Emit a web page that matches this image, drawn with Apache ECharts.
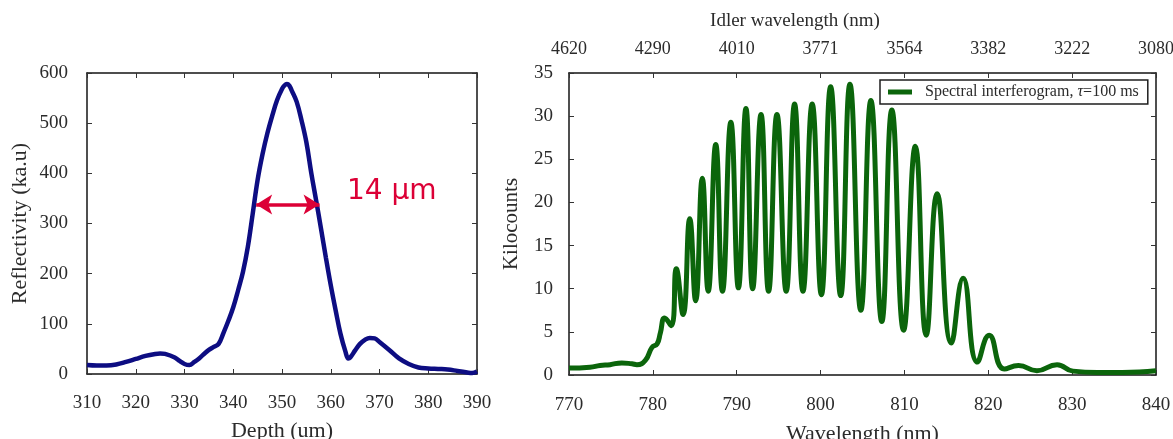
<!DOCTYPE html>
<html>
<head>
<meta charset="utf-8">
<script src="https://cdn.jsdelivr.net/npm/echarts@6/dist/echarts.min.js"></script>
<style>
  html, body { margin: 0; padding: 0; background: #fff; }
  #chart { width: 1173px; height: 439px; }
</style>
</head>
<body>
<div id="chart"></div>
<script>
// ---- Left panel: reflectivity vs depth ----
const depth = [310, 312, 314, 316, 318, 320, 322, 324, 325, 326, 328, 329, 330, 331, 332, 333, 334, 335, 336, 337, 338, 339, 340, 341, 342, 343, 344, 345, 346, 347, 348, 349, 350, 350.5, 351, 351.5, 352, 353, 354, 355, 356, 357, 358, 359, 360, 361, 362, 363, 363.6, 364, 365, 366, 367, 368, 369, 370, 372, 374, 376, 378, 380, 382, 384, 386, 388, 389, 390];
const reflectivity = [18, 17, 17, 19, 24, 30, 36, 40, 41, 40, 33, 26, 20, 18, 24, 31, 40, 48, 54, 60, 82, 106, 133, 167, 204, 254, 320, 387, 438, 480, 515, 546, 568, 575, 578, 575, 565, 543, 506, 462, 401, 346, 290, 232, 177, 127, 80, 45, 31, 33, 47, 60, 68, 72, 71, 64, 48, 31, 20, 13, 11, 10, 9, 6, 3, 2, 5];
const fwhmArrow = { from: [344.7, 338], to: [357.7, 338], label: '14 μm' };

// ---- Right panel: spectral interferogram ----
const wavelength = [770, 772.5, 773.7, 774.9, 776.3, 777.5, 778.1, 779.1, 779.9, 780.5, 780.9, 781.4, 782.2, 782.8, 783.6, 784.4, 785.1, 785.9, 786.6, 787.5, 788.3, 789.3, 790.2, 791.1, 791.9, 792.9, 793.8, 794.8, 795.9, 796.9, 797.9, 799.0, 800.1, 801.2, 802.4, 803.5, 804.8, 806.0, 807.3, 808.5, 809.9, 811.3, 812.6, 813.9, 815.6, 817.0, 818.7, 820.1, 821.9, 823.6, 825.8, 828.2, 830.1, 833, 836, 838, 840];
const kilocounts = [0.8, 0.9, 1.1, 1.2, 1.4, 1.3, 1.2, 1.7, 3.2, 3.6, 4.9, 6.6, 5.7, 12.3, 7.0, 18.1, 8.6, 22.8, 9.7, 26.7, 9.7, 29.3, 10.1, 30.9, 10.0, 30.2, 9.7, 30.2, 9.7, 31.4, 9.7, 31.4, 9.3, 33.4, 9.2, 33.7, 7.5, 31.8, 6.2, 30.7, 5.2, 26.5, 4.6, 21.0, 3.7, 11.2, 1.5, 4.6, 0.7, 1.1, 0.5, 1.2, 0.45, 0.3, 0.3, 0.35, 0.5];
const idlerTickLabels = ['4620', '4290', '4010', '3771', '3564', '3382', '3222', '3080'];
const seriesName = 'Spectral interferogram, τ=100 ms';

const SERIF = '"Liberation Serif", "DejaVu Serif", serif';
const TXT = '#2b2b2b';
const FRAME = { show: true, onZero: false, lineStyle: { color: '#141414', width: 1.5 } };
const TICK = { show: true, inside: true, length: 5, lineStyle: { color: '#333', width: 1 } };

function zip(a, b) { return a.map((v, i) => [v, b[i]]); }

const chart = echarts.init(document.getElementById('chart'), null, { renderer: 'canvas' });

const option = {
  animation: false,
  backgroundColor: '#ffffff',
  grid: [
    { left: 87, right: 696, top: 73, bottom: 65, containLabel: false, outerBoundsMode: 'none' },
    { left: 569, right: 17, top: 73, bottom: 64, containLabel: false, outerBoundsMode: 'none' }
  ],
  xAxis: [
    {
      gridIndex: 0, type: 'value', position: 'bottom', min: 310, max: 390, interval: 10,
      axisLine: FRAME, axisTick: TICK, splitLine: { show: false },
      axisLabel: { margin: 20, fontFamily: SERIF, fontSize: 19, color: TXT },
      name: 'Depth (um)', nameLocation: 'middle', nameGap: 46,
      nameTextStyle: { fontFamily: SERIF, fontSize: 22, color: TXT }
    },
    {
      gridIndex: 0, type: 'value', position: 'top', min: 310, max: 390, interval: 10,
      axisLine: FRAME, axisTick: TICK, splitLine: { show: false }, axisLabel: { show: false }
    },
    {
      gridIndex: 1, type: 'value', position: 'bottom', min: 770, max: 840, interval: 10,
      axisLine: FRAME, axisTick: TICK, splitLine: { show: false },
      axisLabel: { margin: 21, fontFamily: SERIF, fontSize: 19, color: TXT },
      name: 'Wavelength (nm)', nameLocation: 'middle', nameGap: 48,
      nameTextStyle: { fontFamily: SERIF, fontSize: 22, color: TXT }
    },
    {
      gridIndex: 1, type: 'value', position: 'top', min: 770, max: 840, interval: 10,
      axisLine: FRAME, axisTick: TICK, splitLine: { show: false },
      axisLabel: {
        margin: 15, fontFamily: SERIF, fontSize: 18, color: TXT,
        formatter: function (v) { return idlerTickLabels[Math.round((v - 770) / 10)]; }
      }
    }
  ],
  yAxis: [
    {
      gridIndex: 0, type: 'value', position: 'left', min: 0, max: 600, interval: 100,
      axisLine: FRAME, axisTick: TICK, splitLine: { show: false },
      axisLabel: { margin: 19, fontFamily: SERIF, fontSize: 19, color: TXT },
      name: 'Reflectivity (ka.u)', nameLocation: 'middle', nameGap: 56, nameRotate: 90,
      nameTextStyle: { fontFamily: SERIF, fontSize: 22, color: TXT }
    },
    {
      gridIndex: 0, type: 'value', position: 'right', min: 0, max: 600, interval: 100,
      axisLine: FRAME, axisTick: TICK, splitLine: { show: false }, axisLabel: { show: false }
    },
    {
      gridIndex: 1, type: 'value', position: 'left', min: 0, max: 35, interval: 5,
      axisLine: FRAME, axisTick: TICK, splitLine: { show: false },
      axisLabel: { margin: 16, fontFamily: SERIF, fontSize: 19, color: TXT },
      name: 'Kilocounts', nameLocation: 'middle', nameGap: 47, nameRotate: 90,
      nameTextStyle: { fontFamily: SERIF, fontSize: 21, color: TXT }
    },
    {
      gridIndex: 1, type: 'value', position: 'right', min: 0, max: 35, interval: 5,
      axisLine: FRAME, axisTick: TICK, splitLine: { show: false }, axisLabel: { show: false }
    }
  ],
  legend: {
    data: [seriesName],
    left: 880, top: 80,
    padding: [4, 9, 4, 8],
    itemWidth: 24, itemHeight: 5, icon: 'rect',
    borderColor: '#1e1e1e', borderWidth: 1.5, borderRadius: 0,
    backgroundColor: '#ffffff',
    formatter: function () { return '{a|Spectral interferogram, }{i|τ}{b|=100 ms}'; },
    textStyle: {
      fontFamily: SERIF, fontSize: 16, color: TXT,
      rich: {
        a: { fontFamily: SERIF, fontSize: 16, color: TXT, padding: [0, 0, 0, 8] },
        i: { fontFamily: SERIF, fontSize: 16, color: TXT, fontStyle: 'italic' },
        b: { fontFamily: SERIF, fontSize: 16, color: TXT }
      }
    }
  },
  graphic: [
    {
      type: 'text',
      position: [795, 21],
      style: {
        text: 'Idler wavelength (nm)',
        font: '19px "Liberation Serif", serif', fill: TXT,
        textAlign: 'center', textVerticalAlign: 'middle'
      }
    },
    {
      type: 'text',
      position: [347, 192],
      style: {
        text: fwhmArrow.label,
        font: '28px "DejaVu Sans", sans-serif', fill: '#dc0036',
        textAlign: 'left', textVerticalAlign: 'middle'
      }
    }
  ],
  series: [
    {
      type: 'line', xAxisIndex: 0, yAxisIndex: 0,
      data: zip(depth, reflectivity),
      smooth: 0.4, showSymbol: false, silent: true,
      lineStyle: { color: '#0d0d82', width: 4.5 },
      itemStyle: { color: '#0d0d82' },
      markLine: {
        silent: true, animation: false,
        symbol: ['arrow', 'arrow'], symbolSize: [15, 16],
        label: { show: false },
        lineStyle: { color: '#dc0036', width: 3.5, type: 'solid' },
        data: [[{ coord: fwhmArrow.from }, { coord: fwhmArrow.to }]]
      }
    },
    {
      name: seriesName,
      type: 'line', xAxisIndex: 2, yAxisIndex: 2,
      data: zip(wavelength, kilocounts),
      smooth: 0.5, showSymbol: false, silent: true,
      lineStyle: { color: '#0b650b', width: 5 },
      itemStyle: { color: '#0b650b' }
    }
  ]
};
chart.setOption(option);
</script>
</body>
</html>
